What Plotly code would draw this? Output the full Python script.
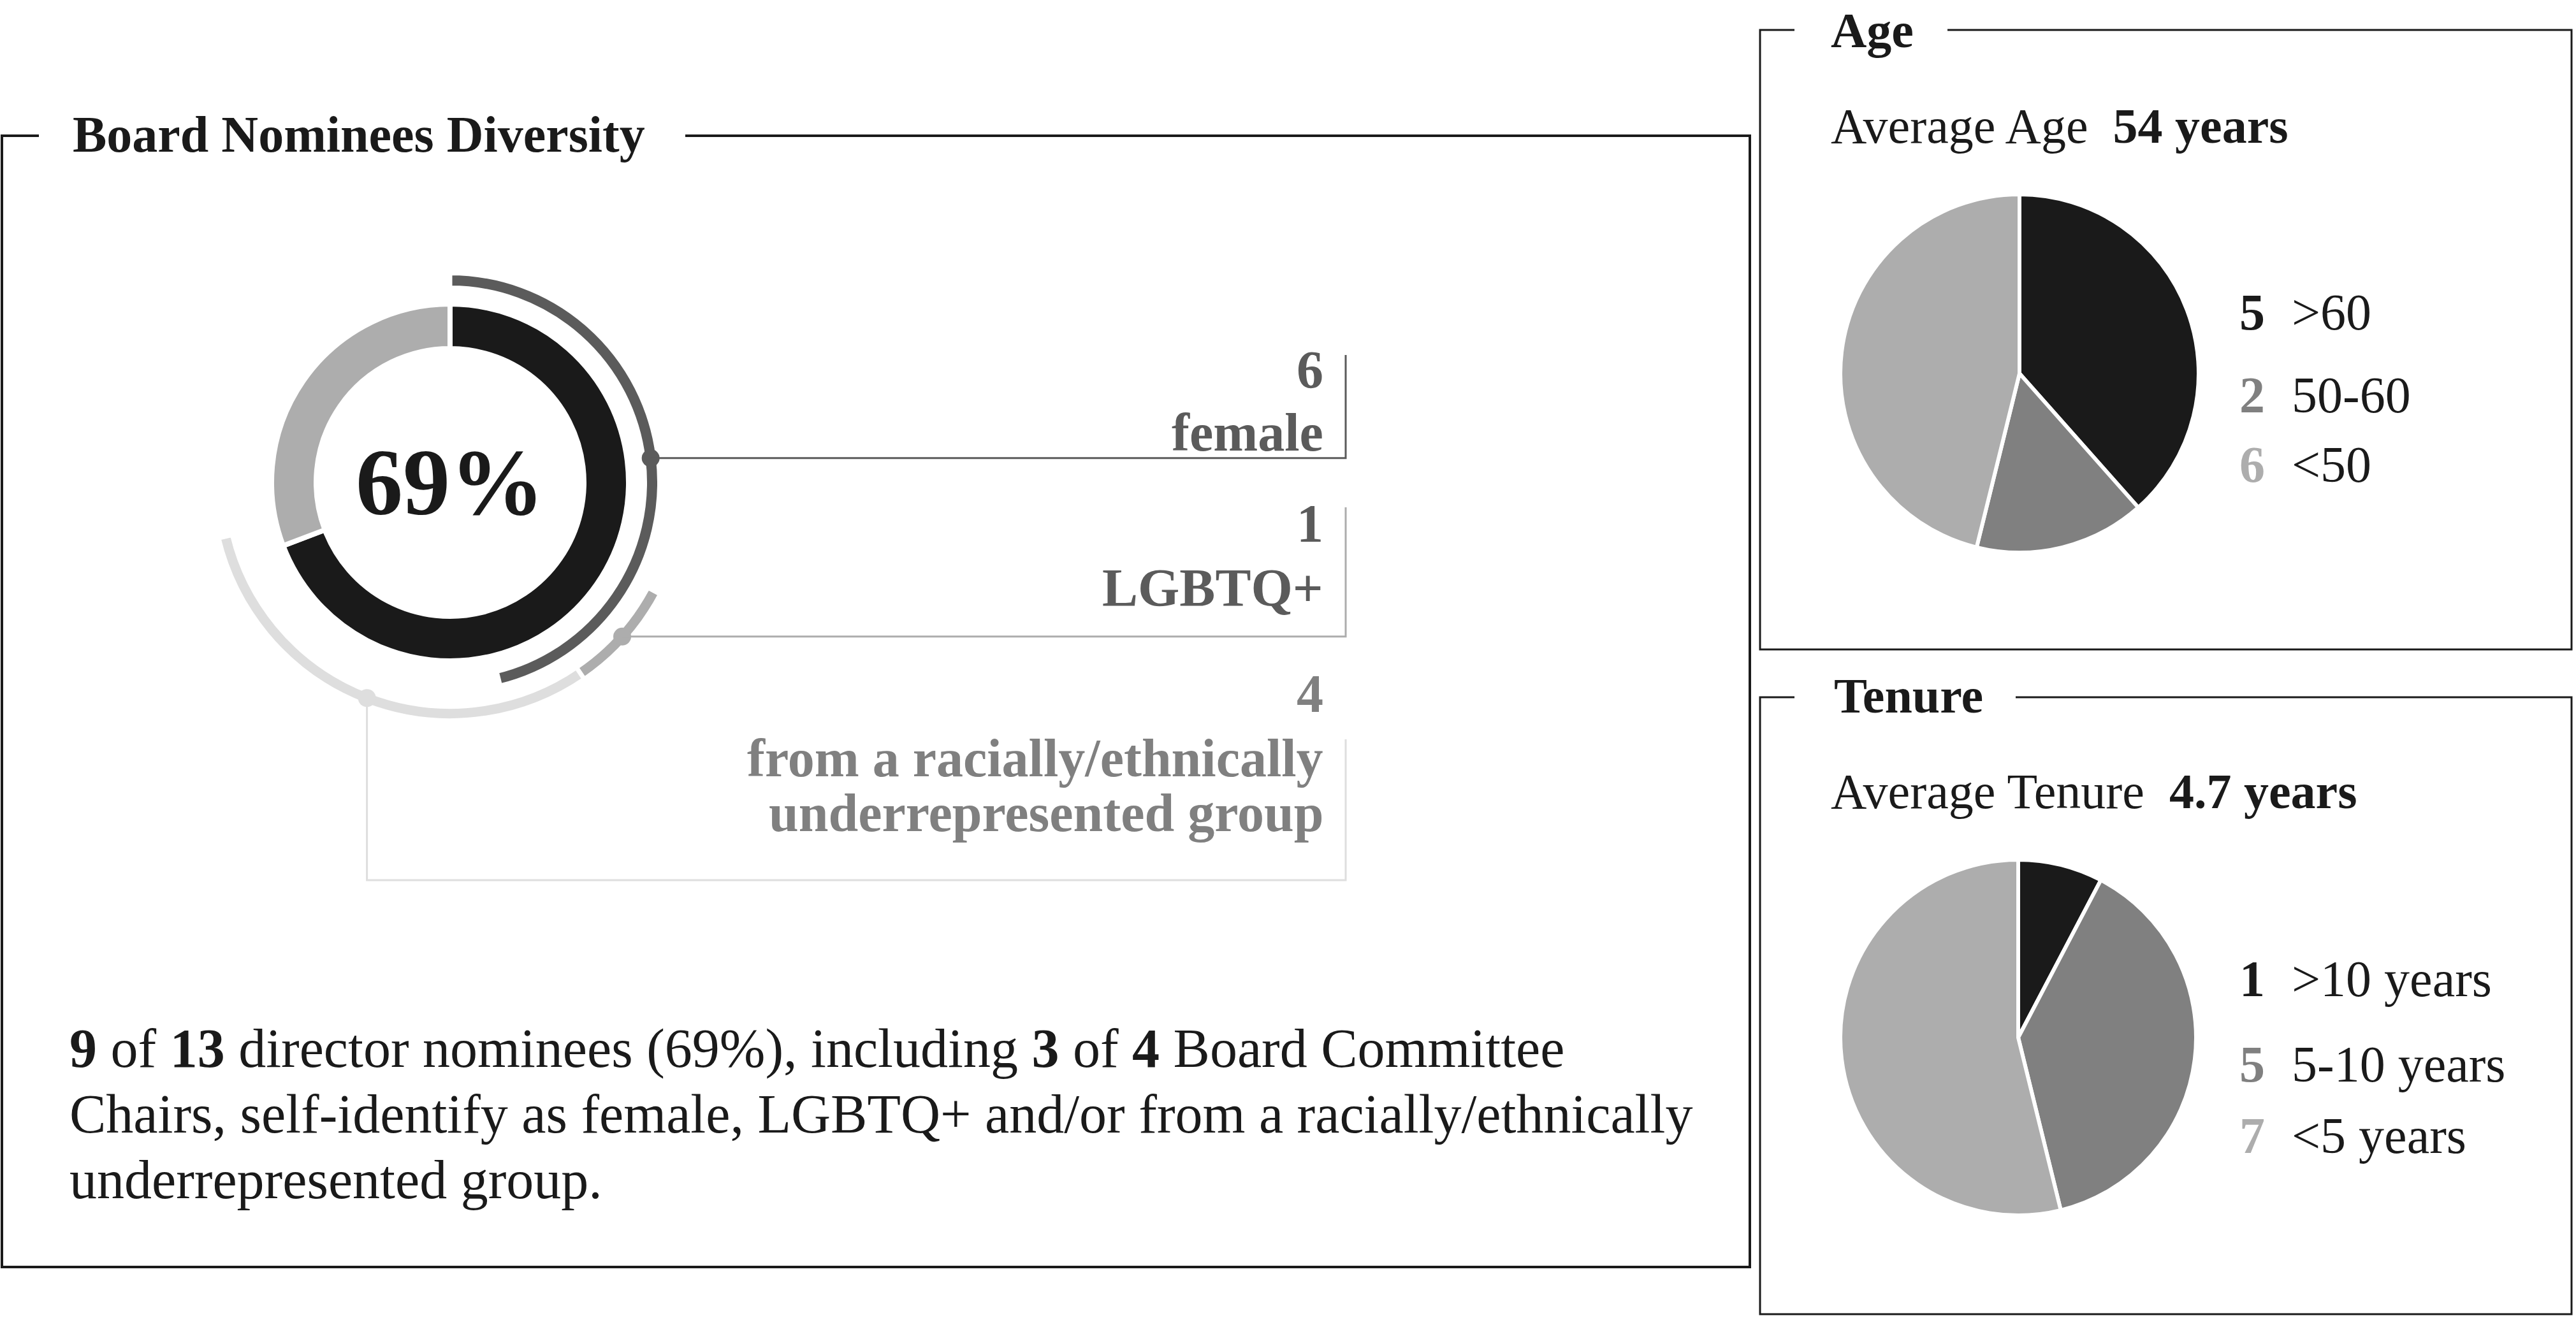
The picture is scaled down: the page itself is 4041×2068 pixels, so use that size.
import math
import plotly.graph_objects as go

W, H = 4041, 2068

# ---------------- data ----------------
total_nominees = 13
diverse_nominees = 9
chairs_diverse = 3
chairs_total = 4
diversity_labels = ["female", "LGBTQ+", "from a racially/ethnically", "underrepresented group"]
diversity_counts = [6, 1, 4]

age_labels = [">60", "50-60", "<50"]
age_counts = [5, 2, 6]
avg_age = "54 years"

tenure_labels = [">10 years", "5-10 years", "<5 years"]
tenure_counts = [1, 5, 7]
avg_tenure = "4.7 years"

# ---------------- styles ----------------
SERIF = "Liberation Serif"
BLACK = "#1a1a1a"
DARK = "#5b5b5b"
MID = "#808080"
LIGHT = "#adadad"
PALE = "#dedede"

pie_colors = [BLACK, MID, LIGHT]

# polar (left donut) geometry in pixels
CX, CY, HALF = 706, 757, 400
DEG = 360.0 / total_nominees
RING2_START = 118.0


def arcs(counts, start):
    th, wd = [], []
    a = start
    for c in counts:
        w = c * DEG
        th.append(a + w / 2)
        wd.append(w)
        a += w
    return th, wd


fig = go.Figure()
# empty cartesian trace so pixel-unit axes exist for shapes/annotations
fig.add_trace(go.Scatter(x=[], y=[], xaxis="x", yaxis="y", showlegend=False))

# ---- main donut ----
main_counts = [diverse_nominees, total_nominees - diverse_nominees]
th0, wd0 = arcs(main_counts, 0)
SW = 8
fig.add_trace(go.Barpolar(
    theta=th0, width=wd0, r=[62 + SW] * 2, base=[214 - SW / 2] * 2,
    marker=dict(color=[BLACK, LIGHT], line=dict(color="white", width=SW)),
    hoverinfo="skip", showlegend=False))

# ---- ring 1 : female ----
SW2 = 7
th1, wd1 = arcs(diversity_counts[:1], 0)
r1_in, r1_t = 309, 16
fig.add_trace(go.Barpolar(
    theta=th1, width=wd1, r=[r1_t + SW2], base=[r1_in - SW2 / 2],
    marker=dict(color=[DARK], line=dict(color="white", width=SW2)),
    hoverinfo="skip", showlegend=False))

# ---- ring 2 : LGBTQ+ and ethnic ----
th2, wd2 = arcs(diversity_counts[1:], RING2_START)
r2_in, r2_t = 355, 15
fig.add_trace(go.Barpolar(
    theta=th2, width=wd2, r=[r2_t + SW2] * 2, base=[r2_in - SW2 / 2] * 2,
    marker=dict(color=[LIGHT, PALE], line=dict(color="white", width=SW2)),
    hoverinfo="skip", showlegend=False))

# ---- dots at arc midpoints ----
dot_r = [r1_in + r1_t / 2, r2_in + r2_t / 2, r2_in + r2_t / 2]
dot_t = th1 + th2
dot_c = [DARK, LIGHT, PALE]
fig.add_trace(go.Scatterpolar(
    r=dot_r, theta=dot_t, mode="markers",
    marker=dict(size=28, color=dot_c, line=dict(width=0)),
    hoverinfo="skip", showlegend=False))


def dot_xy(r, t):
    return CX + r * math.sin(math.radians(t)), CY - r * math.cos(math.radians(t))


# ---- age / tenure pies ----
def pie_domain(cx, cy, r):
    return dict(x=[(cx - r) / W, (cx + r) / W], y=[1 - (cy + r) / H, 1 - (cy - r) / H])


fig.add_trace(go.Pie(
    values=age_counts, labels=age_labels, sort=False, direction="clockwise", rotation=0,
    marker=dict(colors=pie_colors, line=dict(color="white", width=6)),
    textinfo="none", hoverinfo="label+value", showlegend=False,
    domain=pie_domain(3168, 586, 281)))
fig.add_trace(go.Pie(
    values=tenure_counts, labels=tenure_labels, sort=False, direction="clockwise", rotation=0,
    marker=dict(colors=pie_colors, line=dict(color="white", width=6)),
    textinfo="none", hoverinfo="label+value", showlegend=False,
    domain=pie_domain(3166, 1628, 279)))

# ---------------- shapes ----------------
shapes = []


def path(d, color, width):
    shapes.append(dict(type="path", path=d, xref="x", yref="y",
                       line=dict(color=color, width=width), layer="above"))


# boxes
path("M 61,213 L 3,213 L 3,1988 L 2745,1988 L 2745,213 L 1075,213", BLACK, 4)
path("M 2815,47 L 2761,47 L 2761,1019 L 4034,1019 L 4034,47 L 3055,47", BLACK, 3)
path("M 2815,1094 L 2761,1094 L 2761,2062 L 4034,2062 L 4034,1094 L 3162,1094", BLACK, 3)

# connectors
VX = 2111
fx, fy = dot_xy(dot_r[0], dot_t[0])
path(f"M {fx:.1f},{fy:.1f} L {VX},{fy:.1f} L {VX},557", DARK, 3)
lx, ly = dot_xy(dot_r[1], dot_t[1])
path(f"M {lx:.1f},{ly:.1f} L {VX},{ly:.1f} L {VX},796", LIGHT, 3)
ex, ey = dot_xy(dot_r[2], dot_t[2])
path(f"M {ex:.1f},{ey:.1f} L {ex:.1f},1381 L {VX},1381 L {VX},1160", PALE, 3)

# ---------------- annotations ----------------
ann = []


def text(x, baseline, s, size, color=BLACK, anchor="left"):
    ann.append(dict(x=x, y=baseline - 0.3375 * size, xref="x", yref="y", text=s,
                    showarrow=False, xanchor=anchor, yanchor="middle", align=anchor,
                    borderpad=0, font=dict(family=SERIF, size=size, color=color)))


pct = round(100 * diverse_nominees / total_nominees)

# titles
text(113, 238, "<b>Board Nominees Diversity</b>", 80)
text(2871, 74, "<b>Age</b>", 78)
text(2876, 1118, "<b>Tenure</b>", 78)

# big percent
text(CX, 807, f"<b>{pct}%</b>", 148, BLACK, "center")

# connector labels
RX = 2077
LS = 84
text(RX, 609, f"<b>{diversity_counts[0]}</b>", LS, DARK, "right")
text(RX, 707, f"<b>{diversity_labels[0]}</b>", LS, DARK, "right")
text(RX, 850, f"<b>{diversity_counts[1]}</b>", LS, DARK, "right")
text(RX, 951, f"<b>{diversity_labels[1]}</b>", LS, DARK, "right")
text(RX, 1117, f"<b>{diversity_counts[2]}</b>", LS, MID, "right")
text(RX, 1218, f"<b>{diversity_labels[2]}</b>", LS, MID, "right")
text(RX, 1304, f"<b>{diversity_labels[3]}</b>", LS, MID, "right")

# summary paragraph
BS = 86
text(108, 1674, f"<b>{diverse_nominees}</b> of <b>{total_nominees}</b> director nominees ({pct}%), "
                f"including <b>{chairs_diverse}</b> of <b>{chairs_total}</b> Board Committee", BS)
text(108, 1777, "Chairs, self-identify as female, LGBTQ+ and/or from a racially/ethnically", BS)
text(108, 1880, "underrepresented group.", BS)

# averages
NB = "\u00a0"
text(2871, 224, f"Average Age{NB}{NB}<b>{avg_age}</b>", 78)
text(2871, 1268, f"Average Tenure{NB}{NB}<b>{avg_tenure}</b>", 78)

# pie legends
for base_list, counts, labels in [([517, 647, 756], age_counts, age_labels),
                                  ([1563, 1697, 1809], tenure_counts, tenure_labels)]:
    for b, c, lab, col in zip(base_list, counts, labels, pie_colors):
        text(3512, b, f"<b>{c}</b>", 80, col)
        text(3594, b, lab, 80, BLACK)

fig.update_layout(
    width=W, height=H, margin=dict(l=0, r=0, t=0, b=0),
    paper_bgcolor="white", plot_bgcolor="rgba(0,0,0,0)", showlegend=False,
    xaxis=dict(range=[0, W], visible=False, fixedrange=True, domain=[0, 1]),
    yaxis=dict(range=[H, 0], visible=False, fixedrange=True, domain=[0, 1]),
    polar=dict(
        domain=dict(x=[(CX - HALF) / W, (CX + HALF) / W],
                    y=[1 - (CY + HALF) / H, 1 - (CY - HALF) / H]),
        bgcolor="rgba(0,0,0,0)", barmode="overlay", hole=0,
        radialaxis=dict(visible=False, range=[0, HALF], showgrid=False),
        angularaxis=dict(visible=False, rotation=90, direction="clockwise", showgrid=False),
    ),
    shapes=shapes, annotations=ann,
)

fig.write_html("out.html", config={"displayModeBar": False},
               post_script="document.body.style.margin='0';")
